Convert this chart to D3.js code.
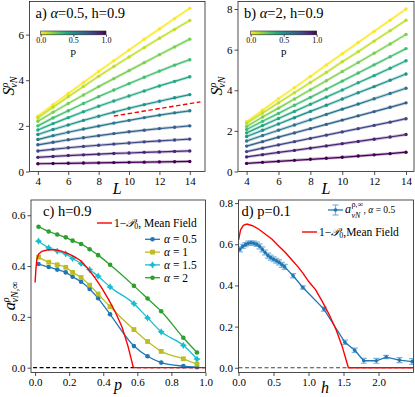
<!DOCTYPE html>
<html>
<head>
<meta charset="utf-8">
<script src="https://cdn.jsdelivr.net/npm/d3@7"></script>
<style>
  body { margin: 0; background: #fff; }
  svg text { font-family: "Liberation Serif", "DejaVu Serif", serif; fill: #000; }
  .axis line { stroke: #222; stroke-width: 0.8; }
  .axis path { display: none; }
  .axis text { font-size: 11px; }
</style>
</head>
<body>
<svg id="fig" width="415" height="397"></svg>
<script>
// ---- data: panels a) and b), entropy vs system size ----
var sizesL = [4, 5, 6, 7, 8, 9, 10, 11, 12, 13, 14];
var pLevels = [0, 0.1, 0.2, 0.3, 0.4, 0.5, 0.6, 0.7, 0.8, 0.9, 1.0];

var entropyA = [
  [2.42, 2.93, 3.42, 3.90, 4.38, 4.85, 5.32, 5.80, 6.25, 6.70, 7.15],
  [2.35, 2.82, 3.28, 3.73, 4.17, 4.60, 5.02, 5.43, 5.84, 6.23, 6.62],
  [2.20, 2.60, 2.98, 3.35, 3.72, 4.07, 4.42, 4.77, 5.12, 5.46, 5.80],
  [2.00, 2.35, 2.66, 2.98, 3.28, 3.57, 3.85, 4.13, 4.40, 4.66, 4.90],
  [1.82, 2.10, 2.36, 2.62, 2.86, 3.09, 3.31, 3.53, 3.75, 3.95, 4.15],
  [1.62, 1.84, 2.04, 2.24, 2.42, 2.60, 2.77, 2.93, 3.08, 3.23, 3.37],
  [1.40, 1.57, 1.72, 1.86, 1.99, 2.12, 2.24, 2.36, 2.47, 2.57, 2.66],
  [1.17, 1.28, 1.39, 1.48, 1.57, 1.66, 1.74, 1.81, 1.88, 1.94, 2.00],
  [0.90, 0.97, 1.04, 1.10, 1.15, 1.20, 1.25, 1.30, 1.34, 1.38, 1.42],
  [0.62, 0.66, 0.70, 0.73, 0.76, 0.79, 0.81, 0.84, 0.86, 0.88, 0.90],
  [0.34, 0.35, 0.36, 0.37, 0.38, 0.39, 0.40, 0.41, 0.42, 0.43, 0.44]
];
var refSlopeL = [9.0, 14.7];
var refSlopeS = [2.43, 3.05];

var entropyB = [
  [2.45, 3.02, 3.58, 4.13, 4.68, 5.24, 5.80, 6.35, 6.90, 7.45, 8.00],
  [2.38, 2.88, 3.38, 3.88, 4.38, 4.88, 5.40, 5.90, 6.42, 6.93, 7.45],
  [2.22, 2.68, 3.12, 3.57, 4.02, 4.47, 4.92, 5.37, 5.82, 6.28, 6.75],
  [2.07, 2.47, 2.86, 3.26, 3.65, 4.05, 4.45, 4.85, 5.25, 5.65, 6.05],
  [1.90, 2.26, 2.61, 2.96, 3.31, 3.66, 4.01, 4.37, 4.72, 5.08, 5.45],
  [1.72, 2.03, 2.34, 2.65, 2.96, 3.26, 3.57, 3.88, 4.18, 4.49, 4.80],
  [1.50, 1.77, 2.03, 2.29, 2.55, 2.81, 3.07, 3.32, 3.58, 3.84, 4.10],
  [1.25, 1.47, 1.69, 1.90, 2.11, 2.32, 2.53, 2.74, 2.95, 3.16, 3.38],
  [0.98, 1.15, 1.31, 1.47, 1.63, 1.79, 1.95, 2.11, 2.27, 2.43, 2.60],
  [0.72, 0.83, 0.94, 1.04, 1.15, 1.26, 1.37, 1.48, 1.59, 1.70, 1.82],
  [0.40, 0.45, 0.50, 0.55, 0.60, 0.65, 0.70, 0.76, 0.82, 0.88, 0.95]
];

// ---- data: panel c), coefficient vs p ----
var pGrid = [0.02, 0.08, 0.13, 0.18, 0.22, 0.27, 0.32, 0.37, 0.44, 0.58, 0.66, 0.74, 0.87, 0.95];
var coefAlpha05 = [0.408, 0.396, 0.386, 0.375, 0.358, 0.338, 0.31, 0.273, 0.21, 0.085, 0.045, 0.02, 0.006, 0.002];
var coefAlpha1  = [0.435, 0.415, 0.405, 0.395, 0.375, 0.355, 0.325, 0.29, 0.24, 0.15, 0.103, 0.064, 0.035, 0.014];
var coefAlpha15 = [0.498, 0.472, 0.459, 0.448, 0.43, 0.41, 0.386, 0.36, 0.318, 0.252, 0.196, 0.141, 0.088, 0.034];
var coefAlpha2  = [0.555, 0.536, 0.524, 0.513, 0.5, 0.487, 0.466, 0.443, 0.405, 0.322, 0.272, 0.222, 0.118, 0.06];
var mfP = [0, 0.005, 0.01, 0.02, 0.04, 0.07, 0.11, 0.15, 0.19, 0.23, 0.27, 0.31, 0.35, 0.39, 0.43, 0.47, 0.51, 0.545, 0.575, 0.58, 1.0];
var mfC = [0.335, 0.39, 0.425, 0.447, 0.458, 0.463, 0.465, 0.46, 0.45, 0.437, 0.42, 0.39, 0.355, 0.315, 0.27, 0.22, 0.16, 0.085, 0.005, 0, 0];

// ---- data: panel d), coefficient vs h ----
var hGrid = [0.02, 0.06, 0.1, 0.14, 0.18, 0.22, 0.26, 0.3, 0.34, 0.38, 0.42, 0.46, 0.5, 0.54, 0.58, 0.62, 0.66, 0.78, 0.92, 1.22, 1.52, 1.66, 1.79, 1.97, 2.11, 2.3, 2.48];
var coefH = [0.575, 0.59, 0.598, 0.605, 0.607, 0.605, 0.6, 0.59, 0.575, 0.56, 0.545, 0.535, 0.527, 0.52, 0.512, 0.5, 0.49, 0.447, 0.39, 0.285, 0.124, 0.085, 0.034, 0.034, 0.052, 0.037, 0.03];
var errH  = [0.012, 0.01, 0.01, 0.01, 0.01, 0.01, 0.01, 0.012, 0.012, 0.012, 0.012, 0.012, 0.012, 0.012, 0.012, 0.012, 0.012, 0.01, 0.008, 0.01, 0.01, 0.01, 0.012, 0.012, 0.008, 0.012, 0.014];
var mfH = [0, 0.03, 0.07, 0.12, 0.2, 0.29, 0.38, 0.48, 0.57, 0.67, 0.76, 0.85, 0.92, 1.0, 1.1, 1.2, 1.3, 1.4, 1.48, 1.57, 2.5];
var mfD = [0.62, 0.67, 0.692, 0.698, 0.69, 0.673, 0.65, 0.624, 0.593, 0.56, 0.525, 0.49, 0.46, 0.42, 0.38, 0.32, 0.255, 0.18, 0.105, 0, 0];

// ---- ticks ----
var ticksL = [4, 6, 8, 10, 12, 14];
var ticksSA = [0, 2, 4, 6];
var ticksSB = [0, 2, 4, 6, 8];
var ticksP = [0, 0.2, 0.4, 0.6, 0.8, 1.0];
var ticksC = [0, 0.2, 0.4, 0.6];
var ticksH = [0, 0.5, 1.0, 1.5, 2.0];
var ticksD = [0, 0.2, 0.4, 0.6, 0.8];
var cbarTicks = [0, 0.5, 1.0];

var svg = d3.select("#fig");
var serif = "'Liberation Serif', 'DejaVu Serif', serif";
var fmt1 = d3.format(".1f");
var viridisR = function (p) { return d3.interpolateViridis(1 - p); };

function rich(g, x, y, parts, opt) {
  opt = opt || {};
  var t = g.append("text").attr("x", x).attr("y", y)
    .attr("font-size", opt.size || 12)
    .attr("text-anchor", opt.anchor || "start");
  if (opt.rotate) t.attr("transform", "rotate(-90," + x + "," + y + ")");
  parts.forEach(function (p) {
    var s = t.append("tspan").text(p.t);
    if (p.i) s.attr("font-style", "italic");
    if (p.fs) s.attr("font-size", p.fs);
    if (p.dy) s.attr("dy", p.dy);
    if (p.dx) s.attr("dx", p.dx);
  });
  return t;
}

function panel(o) {
  var g = svg.append("g");
  var x = d3.scaleLinear().domain(o.xd).range([o.l, o.r]);
  var y = d3.scaleLinear().domain(o.yd).range([o.b, o.t]);
  g.append("g").attr("class", "axis").attr("transform", "translate(0," + o.b + ")")
    .call(d3.axisBottom(x).tickValues(o.xt).tickFormat(o.xf).tickSize(3.5).tickPadding(2));
  g.append("g").attr("class", "axis").attr("transform", "translate(" + o.l + ",0)")
    .call(d3.axisLeft(y).tickValues(o.yt).tickFormat(o.yf).tickSize(3.5).tickPadding(2));
  var id = "clip" + Math.round(o.l) + Math.round(o.t);
  g.append("clipPath").attr("id", id).append("rect")
    .attr("x", o.l).attr("y", o.t).attr("width", o.r - o.l).attr("height", o.b - o.t);
  var plot = g.append("g").attr("clip-path", "url(#" + id + ")");
  g.append("rect").attr("x", o.l).attr("y", o.t).attr("width", o.r - o.l).attr("height", o.b - o.t)
    .attr("fill", "none").attr("stroke", "#222").attr("stroke-width", 0.8);
  return { g: g, plot: plot, x: x, y: y };
}

function colorbar(g, x0, x1, y0, h, gid) {
  var grad = svg.append("defs").append("linearGradient").attr("id", gid);
  d3.range(0, 1.0001, 0.1).forEach(function (t) {
    grad.append("stop").attr("offset", t).attr("stop-color", viridisR(t));
  });
  var s = d3.scaleLinear().domain([0, 1]).range([x0, x1]);
  g.append("rect").attr("x", x0).attr("y", y0).attr("width", x1 - x0).attr("height", h)
    .attr("fill", "url(#" + gid + ")").attr("stroke", "#222").attr("stroke-width", 0.6);
  var ax = g.append("g").attr("class", "axis").attr("transform", "translate(0," + (y0 + h) + ")")
    .call(d3.axisBottom(s).tickValues(cbarTicks).tickFormat(fmt1).tickSize(2).tickPadding(0.5));
  ax.selectAll("text").style("font-size", "8px");
  g.append("text").attr("x", (x0 + x1) / 2).attr("y", y0 + h + 20.5).attr("text-anchor", "middle")
    .attr("font-size", 11).text("p");
}

function entropyPanel(o, rows, title) {
  var P = panel(o);
  var line = d3.line().x(function (d, i) { return P.x(sizesL[i]); }).y(function (d) { return P.y(d); });
  rows.forEach(function (row, k) {
    var c = viridisR(pLevels[k]);
    P.plot.append("path").attr("d", line(row)).attr("fill", "none")
      .attr("stroke", c).attr("stroke-width", 3).attr("stroke-opacity", 0.3);
    P.plot.append("path").attr("d", line(row)).attr("fill", "none")
      .attr("stroke", c).attr("stroke-width", 1.2);
    P.plot.selectAll(null).data(row).enter().append("circle")
      .attr("cx", function (d, i) { return P.x(sizesL[i]); })
      .attr("cy", function (d) { return P.y(d); })
      .attr("r", 1.7).attr("fill", c);
  });
  rich(P.g, o.l + 6, 18, title, { size: 14.5 });
  rich(P.g, (o.l + o.r) / 2, 194, [{ t: "L", i: true }], { size: 16, anchor: "middle" });
  rich(P.g, o.l - 16, 86, [{ t: "S", i: true }, { t: "ρ", i: true, fs: 10, dy: -6 }, { t: "vN", i: true, fs: 10, dy: 9, dx: -5 }],
    { size: 16, anchor: "middle", rotate: true });
  return P;
}

// ---- a) ----
var A = entropyPanel({ l: 29.5, r: 205, t: 1.5, b: 171.5, xd: [3.45, 15], yd: [0, 7.45],
  xt: ticksL, yt: ticksSA, xf: d3.format("d"), yf: d3.format("d") }, entropyA,
  [{ t: "a) " }, { t: "α", i: true }, { t: "=0.5, h=0.9" }]);
A.plot.append("path")
  .attr("d", d3.line().x(function (d, i) { return A.x(refSlopeL[i]); }).y(function (d) { return A.y(d); })(refSlopeS))
  .attr("fill", "none").attr("stroke", "#ff0000").attr("stroke-width", 1.4).attr("stroke-dasharray", "4.5,2.5");
colorbar(A.g, 40.7, 106, 31, 3.8, "cbA");

// ---- b) ----
var B = entropyPanel({ l: 238, r: 414, t: 1.5, b: 171.5, xd: [3.46, 14.5], yd: [0, 8.37],
  xt: ticksL, yt: ticksSB, xf: d3.format("d"), yf: d3.format("d") }, entropyB,
  [{ t: "b) " }, { t: "α", i: true }, { t: "=2, h=0.9" }]);
colorbar(B.g, 250.7, 316.7, 31, 3.8, "cbB");

// ---- c) ----
var C = panel({ l: 31, r: 205.5, t: 200, b: 372.5, xd: [-0.024, 1.0], yd: [-0.019, 0.66],
  xt: ticksP, yt: ticksC, xf: fmt1, yf: fmt1 });
var lineC = d3.line().x(function (d) { return C.x(d[0]); }).y(function (d) { return C.y(d[1]); });
C.plot.append("path").attr("d", lineC([[-0.05, 0], [1.05, 0]])).attr("stroke", "#000")
  .attr("stroke-width", 1.1).attr("stroke-dasharray", "4,2.5").attr("fill", "none");

function star(s) {
  var q = s * 0.38;
  return "M0," + (-s) + "L" + q + "," + (-q) + "L" + s + ",0L" + q + "," + q + "L0," + s +
    "L" + (-q) + "," + q + "L" + (-s) + ",0L" + (-q) + "," + (-q) + "Z";
}
var seriesC = [
  { v: coefAlpha05, c: "#1f77b4", m: "circle", lab: "0.5" },
  { v: coefAlpha1, c: "#bcbd22", m: "square", lab: "1" },
  { v: coefAlpha15, c: "#17becf", m: "star", lab: "1.5" },
  { v: coefAlpha2, c: "#2ca02c", m: "circle", lab: "2" }
];
function marker(g, m, cx, cy, c) {
  if (m === "circle") g.append("circle").attr("cx", cx).attr("cy", cy).attr("r", 2.3).attr("fill", c);
  else if (m === "square") g.append("rect").attr("x", cx - 2.4).attr("y", cy - 2.4).attr("width", 4.8).attr("height", 4.8).attr("fill", c);
  else g.append("path").attr("transform", "translate(" + cx + "," + cy + ")").attr("d", star(3.6)).attr("fill", c);
}
seriesC.forEach(function (s) {
  var pts = s.v.map(function (v, i) { return [pGrid[i], v]; });
  C.plot.append("path").attr("d", d3.line().curve(d3.curveMonotoneX)
      .x(function (d) { return C.x(d[0]); }).y(function (d) { return C.y(d[1]); })(pts))
    .attr("fill", "none").attr("stroke", s.c).attr("stroke-width", 1.3);
  pts.forEach(function (d) { marker(C.plot, s.m, C.x(d[0]), C.y(d[1]), s.c); });
});
C.plot.append("path").attr("d", lineC(mfP.map(function (p, i) { return [p, mfC[i]]; })))
  .attr("fill", "none").attr("stroke", "#ff0000").attr("stroke-width", 1.4);

rich(C.g, 43, 216, [{ t: "c) h=0.9" }], { size: 14.5 });
rich(C.g, 118, 390, [{ t: "p", i: true }], { size: 16, anchor: "middle" });
rich(C.g, 15, 296, [{ t: "a", i: true }, { t: "ρ", i: true, fs: 10, dy: -6 }, { t: "vN,∞", i: true, fs: 10, dy: 9, dx: -5 }],
  { size: 16, anchor: "middle", rotate: true });
// legend c
C.g.append("line").attr("x1", 97).attr("x2", 112).attr("y1", 223).attr("y2", 223)
  .attr("stroke", "#ff0000").attr("stroke-width", 1.4);
rich(C.g, 114, 227, [{ t: "1−" }, { t: "𝒫", i: true }, { t: "0", fs: 8, dy: 2 }, { t: ", Mean Field", dy: -2 }], { size: 11.5 });
seriesC.forEach(function (s, k) {
  var yy = 239.3 + k * 12.8;
  C.g.append("line").attr("x1", 145).attr("x2", 160).attr("y1", yy).attr("y2", yy)
    .attr("stroke", s.c).attr("stroke-width", 1.3);
  marker(C.g, s.m, 152.5, yy, s.c);
  rich(C.g, 164, yy + 4, [{ t: "α", i: true }, { t: " = " + s.lab }], { size: 11.5 });
});

// ---- d) ----
var D = panel({ l: 238.5, r: 413.5, t: 200, b: 372.5, xd: [0, 2.5], yd: [-0.023, 0.815],
  xt: ticksH, yt: ticksD, xf: fmt1, yf: fmt1 });
var lineD = d3.line().x(function (d) { return D.x(d[0]); }).y(function (d) { return D.y(d[1]); });
D.plot.append("path").attr("d", lineD([[0, 0], [2.6, 0]])).attr("stroke", "#444")
  .attr("stroke-width", 1.1).attr("stroke-dasharray", "4,2.5").attr("fill", "none");
var ptsD = coefH.map(function (v, i) { return [hGrid[i], v, errH[i]]; });
ptsD.forEach(function (d) {
  var cx = D.x(d[0]), y0 = D.y(d[1] - d[2]), y1 = D.y(d[1] + d[2]);
  var eb = D.plot.append("g").attr("stroke", "#7fb1d8").attr("stroke-width", 1.2);
  eb.append("line").attr("x1", cx).attr("x2", cx).attr("y1", y0).attr("y2", y1);
  eb.append("line").attr("x1", cx - 3).attr("x2", cx + 3).attr("y1", y0).attr("y2", y0);
  eb.append("line").attr("x1", cx - 3).attr("x2", cx + 3).attr("y1", y1).attr("y2", y1);
});
D.plot.append("path").attr("d", lineD(ptsD)).attr("fill", "none").attr("stroke", "#1f77b4").attr("stroke-width", 1.3);
ptsD.forEach(function (d) {
  D.plot.append("circle").attr("cx", D.x(d[0])).attr("cy", D.y(d[1])).attr("r", 1.8).attr("fill", "#1f77b4");
});
D.plot.append("path").attr("d", lineD(mfH.map(function (h, i) { return [h, mfD[i]]; })))
  .attr("fill", "none").attr("stroke", "#ff0000").attr("stroke-width", 1.4);

rich(D.g, 241.5, 216, [{ t: "d) p=0.1" }], { size: 14.5 });
rich(D.g, 325, 393, [{ t: "h", i: true }], { size: 16, anchor: "middle" });
// legend d
var lg = D.g.append("g");
lg.append("line").attr("x1", 328).attr("x2", 343).attr("y1", 210).attr("y2", 210).attr("stroke", "#1f77b4").attr("stroke-width", 1.3);
lg.append("line").attr("x1", 335.5).attr("x2", 335.5).attr("y1", 205).attr("y2", 215).attr("stroke", "#7fb1d8").attr("stroke-width", 1.2);
lg.append("line").attr("x1", 332.5).attr("x2", 338.5).attr("y1", 205).attr("y2", 205).attr("stroke", "#7fb1d8").attr("stroke-width", 1.2);
lg.append("line").attr("x1", 332.5).attr("x2", 338.5).attr("y1", 215).attr("y2", 215).attr("stroke", "#7fb1d8").attr("stroke-width", 1.2);
lg.append("circle").attr("cx", 335.5).attr("cy", 210).attr("r", 1.8).attr("fill", "#1f77b4");
// stacked super/subscripts as separate texts
rich(lg, 345, 213, [{ t: "a", i: true }], { size: 12 });
rich(lg, 351.5, 206.5, [{ t: "ρ,∞" }], { size: 8 });
rich(lg, 351.5, 217.5, [{ t: "vN", i: true }], { size: 8 });
rich(lg, 363.5, 213, [{ t: ", " }, { t: "α", i: true }, { t: " = 0.5" }], { size: 9.5 });
lg.append("line").attr("x1", 302).attr("x2", 317).attr("y1", 232).attr("y2", 232).attr("stroke", "#ff0000").attr("stroke-width", 1.4);
rich(lg, 319, 236, [{ t: "1−" }, { t: "𝒫", i: true }, { t: "0", fs: 8, dy: 2 }, { t: ",Mean Field", dy: -2 }], { size: 11.5 });

// make sure every label uses the serif face
svg.selectAll("text").attr("font-family", serif);
</script>
</body>
</html>
